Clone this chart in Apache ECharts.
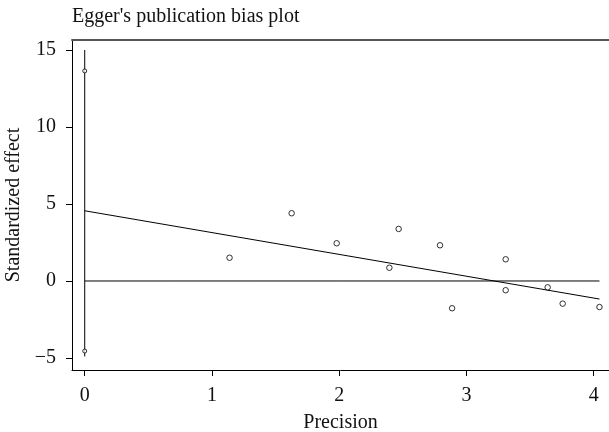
<!DOCTYPE html>
<html><head><meta charset="utf-8">
<script src="https://cdn.jsdelivr.net/npm/echarts@6/dist/echarts.min.js"></script>
<style>html,body{margin:0;padding:0;background:#fff}#c{width:609px;height:432px}</style>
</head><body><div id="c"></div>
<script>
const precision = [1.138, 1.626, 1.980, 2.394, 2.467, 2.792, 2.887, 3.308, 3.308, 3.638, 3.756, 4.045];
const stdEffect = [1.51, 4.40, 2.45, 0.86, 3.38, 2.32, -1.77, 1.41, -0.60, -0.41, -1.47, -1.69];
const interceptCI = [13.64, -4.55];
const interceptLineY = [15, -4.9];
const fitIntercept = 4.56;
const fitSlope = -1.417;
const fitX = [0, 4.045];
const xTicks = [0, 1, 2, 3, 4];
const yTicks = [-5, 0, 5, 10, 15];

const font = 'Liberation Serif';
const fitData = fitX.map(x => [x, fitIntercept + fitSlope * x]);
const zeroData = fitX.map(x => [x, 0]);
const chart = echarts.init(document.getElementById('c'), null, {renderer: 'canvas'});
chart.setOption({
  animation: false,
  title: {text: "Egger's publication bias plot", left: 72, top: 7, padding: 0,
    textStyle: {fontFamily: font, fontSize: 20, fontWeight: 'normal', color: '#111'}},
  grid: {left: 72, top: 40, right: 0, bottom: 62, containLabel: false, outerBoundsMode: 'none'},
  xAxis: [{
    type: 'value', min: -0.1, max: 4.12, position: 'bottom',
    name: 'Precision', nameLocation: 'middle', nameGap: 43,
    nameTextStyle: {fontFamily: font, fontSize: 20, color: '#111'},
    axisLine: {onZero: false, lineStyle: {color: '#000', width: 1}},
    axisTick: {show: true, length: 6, customValues: xTicks, lineStyle: {color: '#000'}},
    axisLabel: {customValues: xTicks, margin: 16, fontFamily: font, fontSize: 20, color: '#111'},
    splitLine: {show: false}
  }, {
    type: 'value', min: -0.1, max: 4.12, position: 'top',
    axisLine: {show: true, onZero: false, lineStyle: {color: '#555', width: 2}},
    axisTick: {show: false}, axisLabel: {show: false}, splitLine: {show: false}
  }],
  yAxis: {
    type: 'value', min: -5.78, max: 15.65,
    name: 'Standardized effect', nameLocation: 'middle', nameGap: 43,
    nameTextStyle: {fontFamily: font, fontSize: 20, color: '#111'},
    axisLine: {show: true, onZero: false, lineStyle: {color: '#000', width: 1}},
    axisTick: {show: true, length: 6, customValues: yTicks, lineStyle: {color: '#000'}},
    axisLabel: {customValues: yTicks, margin: 16, fontFamily: font, fontSize: 20, color: '#111',
      formatter: v => v < 0 ? '\u2212' + Math.abs(v) : String(v)},
    splitLine: {show: false}
  },
  series: [
    {type: 'line', data: zeroData, symbol: 'none', lineStyle: {color: '#000', width: 1}, z: 2},
    {type: 'line', data: fitData, symbol: 'none', lineStyle: {color: '#000', width: 1}, z: 2},
    {type: 'line', data: interceptLineY.map(y => [0, y]), symbol: 'none', lineStyle: {color: '#000', width: 1}, z: 2},
    {type: 'scatter', data: interceptCI.map(y => [0, y]), symbol: 'circle', symbolSize: 4,
      itemStyle: {color: '#fff', borderColor: '#000', borderWidth: 1}, z: 3},
    {type: 'scatter', data: precision.map((x, i) => [x, stdEffect[i]]), symbol: 'circle', symbolSize: 5.5,
      itemStyle: {color: '#fff', borderColor: '#000', borderWidth: 1}, z: 3}
  ]
});
</script></body></html>
